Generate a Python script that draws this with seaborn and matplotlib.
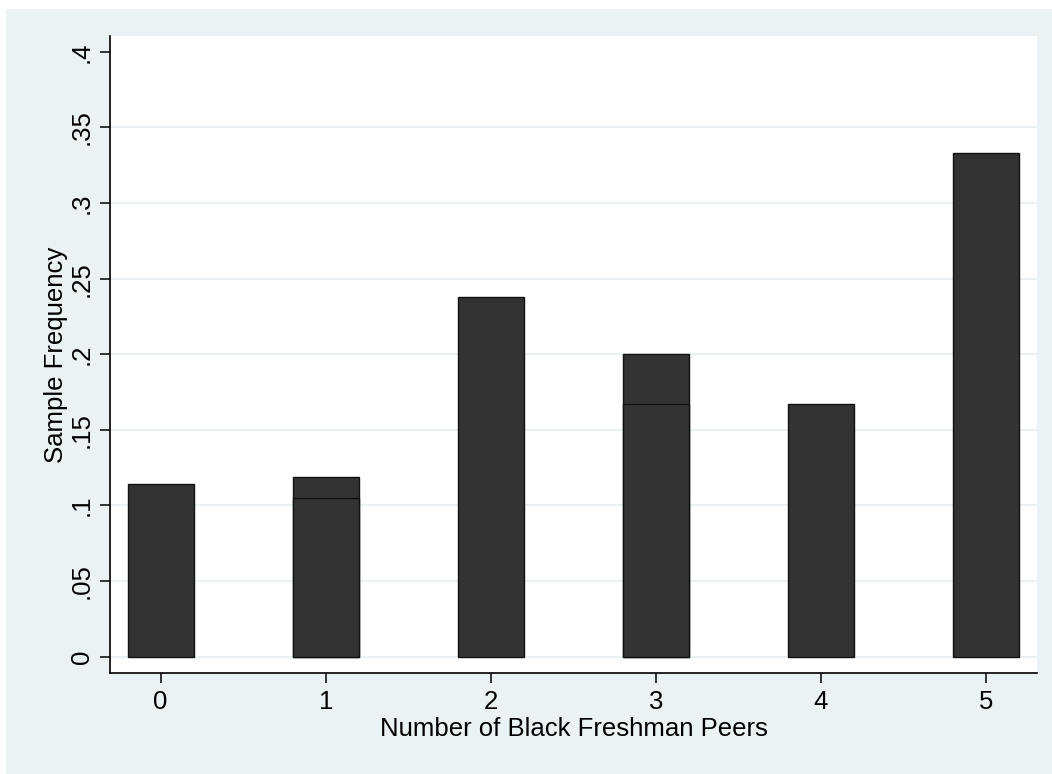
import numpy as np
import pandas as pd
import seaborn as sns
import matplotlib
matplotlib.use("Agg")
import matplotlib.pyplot as plt
from matplotlib.patches import Rectangle

# values
peers = [0, 1, 2, 3, 4, 5]
freq_outer = [0.114, 0.119, 0.238, 0.200, 0.167, 0.333]
peers_inner = [1, 3]
freq_inner = [0.105, 0.167]
yticks = [0, 0.05, 0.1, 0.15, 0.2, 0.25, 0.3, 0.35, 0.4]
ytick_labels = ["0", ".05", ".1", ".15", ".2", ".25", ".3", ".35", ".4"]

sns.set_theme(style="white")
plt.rcParams["font.family"] = ["Liberation Sans", "DejaVu Sans"]

bg = "#EAF2F3"
bar_col = "#333333"
fs = 18.5

fig = plt.figure(figsize=(10.52, 7.74), dpi=100, facecolor="white")
fig.patches.append(Rectangle((6 / 1052, 0), 1 - 6 / 1052, 1 - 9 / 774,
                             transform=fig.transFigure, facecolor=bg,
                             edgecolor="none", zorder=-5))
ax = fig.add_axes([110.3 / 1052, 1 - 673 / 774, (1036.7 - 110.3) / 1052, (673 - 36) / 774])
ax.set_zorder(2)
ax.set_facecolor("white")

df_outer = pd.DataFrame({"peers": peers, "freq": freq_outer})
df_inner = pd.DataFrame({"peers": peers_inner, "freq": freq_inner})

sns.barplot(data=df_outer, x="peers", y="freq", order=peers, width=0.4,
            color=bar_col, saturation=1, edgecolor="#111111", linewidth=1.0,
            errorbar=None, ax=ax, zorder=3)
sns.barplot(data=df_inner, x="peers", y="freq", order=peers, width=0.4,
            color=bar_col, saturation=1, edgecolor="#111111", linewidth=1.0,
            errorbar=None, ax=ax, zorder=4)

ax.set_xlim(-0.305, 5.307)
ax.set_ylim(-0.0108, 0.4105)
ax.set_yticks(yticks)
ax.set_yticklabels(ytick_labels, rotation=90, va="center")
for y in yticks[:-1]:
    ax.axhline(y, color=bg, lw=1.5, zorder=1)

for s in ["top", "right"]:
    ax.spines[s].set_visible(False)
for s in ["left", "bottom"]:
    ax.spines[s].set_color("black")
    ax.spines[s].set_linewidth(1.2)

ax.tick_params(axis="both", which="major", length=7, width=1.1, color="black",
               labelsize=fs, labelcolor="black", pad=5, left=True, bottom=True)
ax.set_xlabel("Number of Black Freshman Peers", fontsize=fs, color="black", labelpad=2.5)
ax.set_ylabel("Sample Frequency", fontsize=fs, color="black", labelpad=1)

fig.savefig("out.png", dpi=100, facecolor="white")
